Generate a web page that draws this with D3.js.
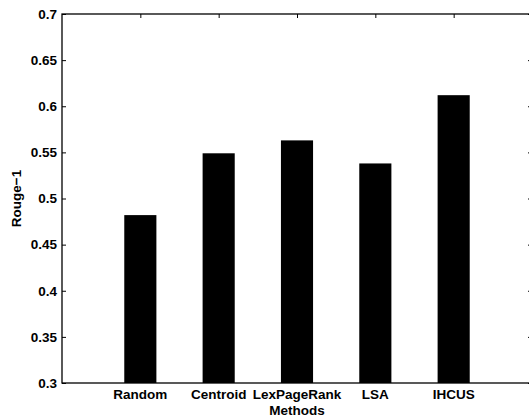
<!DOCTYPE html>
<html>
<head>
<meta charset="utf-8">
<script src="https://cdn.jsdelivr.net/npm/d3@7"></script>
<style>
  body { margin: 0; background: #fff; }
  text { font-family: "Liberation Sans", Arial, sans-serif; font-weight: bold; }
</style>
</head>
<body>
<div id="my_dataviz"></div>
<script>
// chart data
var methods = ["Random", "Centroid", "LexPageRank", "LSA", "IHCUS"];
var rouge1 = [0.482, 0.549, 0.563, 0.538, 0.612];
var yTicks = [0.3, 0.35, 0.4, 0.45, 0.5, 0.55, 0.6, 0.65, 0.7];

var W = 529, H = 419;
var margin = {left: 62, top: 14, right: 532, bottom: 383};

var svg = d3.select("#my_dataviz")
  .append("svg")
    .attr("width", W)
    .attr("height", H);

// x is numeric like matlab's bar positions 1..5, xlim [0,6]
var x = d3.scaleLinear().domain([0, 6]).range([margin.left, margin.right]);
var y = d3.scaleLinear().domain([0.3, 0.7]).range([margin.bottom, margin.top]);
var barW = x(0.41) - x(0);

// bars
svg.selectAll("rect.bar")
  .data(rouge1)
  .enter()
  .append("rect")
    .attr("class", "bar")
    .attr("x", function(d, i) { return x(i + 1) - barW / 2; })
    .attr("y", function(d) { return y(d); })
    .attr("width", barW)
    .attr("height", function(d) { return y(0.3) - y(d); })
    .attr("fill", "#000");

// left axis (ticks inward)
svg.append("g")
  .attr("transform", "translate(" + margin.left + ",0)")
  .call(d3.axisRight(y).tickValues(yTicks).tickSize(4).tickFormat(""))
  .call(function(g) { g.select(".domain").remove(); });

svg.append("g")
  .selectAll("text")
  .data(yTicks)
  .enter()
  .append("text")
    .attr("x", margin.left - 5)
    .attr("y", function(d) { return y(d); })
    .attr("dy", "0.36em")
    .attr("text-anchor", "end")
    .style("font-size", "13.5px")
    .text(function(d) { return d3.format("")(d); });

// right axis ticks
svg.append("g")
  .attr("transform", "translate(" + margin.right + ",0)")
  .call(d3.axisLeft(y).tickValues(yTicks).tickSize(4).tickFormat(""))
  .call(function(g) { g.select(".domain").remove(); });

// top axis ticks at categories
svg.append("g")
  .attr("transform", "translate(0," + margin.top + ")")
  .call(d3.axisBottom(x).tickValues([1, 2, 3, 4, 5]).tickSize(4).tickFormat(""))
  .call(function(g) { g.select(".domain").remove(); });

// category labels
svg.append("g")
  .selectAll("text")
  .data(methods)
  .enter()
  .append("text")
    .attr("x", function(d, i) { return x(i + 1); })
    .attr("y", 399)
    .attr("text-anchor", "middle")
    .style("font-size", "13.5px")
    .text(function(d) { return d; });

// box
svg.append("rect")
  .attr("x", margin.left)
  .attr("y", margin.top)
  .attr("width", margin.right - margin.left)
  .attr("height", margin.bottom - margin.top)
  .attr("fill", "none")
  .attr("stroke", "#000")
  .attr("stroke-width", 1.3);

svg.selectAll(".tick line").attr("stroke", "#000").attr("stroke-width", 1);

// axis titles
svg.append("text")
  .attr("x", x(3))
  .attr("y", 415)
  .attr("text-anchor", "middle")
  .style("font-size", "13.5px")
  .text("Methods");

svg.append("text")
  .attr("transform", "translate(21," + ((margin.top + margin.bottom) / 2) + ") rotate(-90)")
  .attr("text-anchor", "middle")
  .style("font-size", "13.5px")
  .text("Rouge\u22121");
</script>
</body>
</html>
